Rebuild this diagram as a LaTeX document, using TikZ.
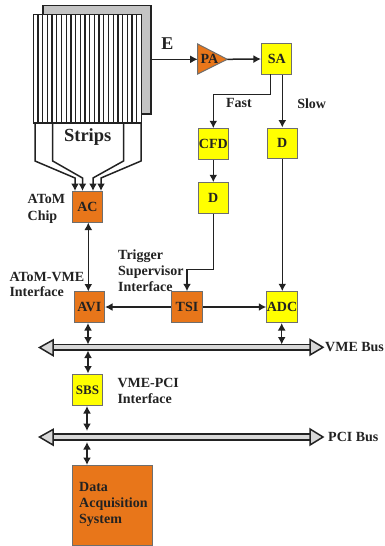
\documentclass[tikz,border=0pt]{standalone}
\usepackage{fontspec}
\setmainfont{Liberation Serif}
\usetikzlibrary{arrows.meta}
\definecolor{ora}{HTML}{E8761A}
\definecolor{yel}{HTML}{FFFF00}
\definecolor{edgeg}{HTML}{6E6E6E}
\definecolor{ink}{HTML}{222222}
\definecolor{pan}{HTML}{C4C4C4}
\definecolor{busg}{HTML}{D8D8D8}
\tikzset{
  lbl/.style={inner sep=0pt,text=ink,font=\fontsize{14}{16}\selectfont\bfseries,align=left},
  blockbox/.style={draw=edgeg,line width=1pt,minimum width=30.5pt,minimum height=30.5pt,inner sep=0pt,text=ink,font=\fontsize{14}{16}\selectfont\bfseries},
  oranbox/.style={blockbox,fill=ora},
  yelbox/.style={blockbox,fill=yel},
  wire/.style={draw=ink,line width=1.5pt},
  arr/.style={wire,-{Latex[length=7.5pt,width=8pt]}},
  darr/.style={wire,{Latex[length=7.5pt,width=8pt]}-{Latex[length=7.5pt,width=8pt]}},
  busbar/.style={draw=ink,line width=1.7pt,fill=busg,minimum width=258pt,minimum height=5.5pt,inner sep=0pt},
  bushead/.style={draw=ink,line width=1.5pt,fill=busg,line join=miter},
}
\begin{document}
\begin{tikzpicture}[x=1pt,y=-1pt]
\useasboundingbox (0,0) rectangle (385,546);
% detector
\draw[draw=ink,line width=1.5pt,fill=pan] (43,5.5) rectangle (151,114);
\node[draw=ink,line width=1.2pt,fill=white,minimum width=108.5pt,minimum height=108.5pt,inner sep=0pt] (det) at (87.5,68.8) {};
\foreach \i in {1,...,22} \draw[ink,line width=1.3pt] (33.3+\i*4.7,14.5) -- (33.3+\i*4.7,123);
% blocks
\node[oranbox] (ac) at (87.5,207) {AC};
\node[oranbox] (avi) at (89.3,307) {AVI};
\node[oranbox] (tsi) at (187,307) {TSI};
\node[yelbox] (adc) at (282,307) {ADC};
\node[yelbox] (sbs) at (87.5,390) {\fontsize{13}{15}\selectfont SBS};
\node[oranbox,minimum width=80pt,minimum height=80pt] (daq) at (112.2,505.7) {};
\node[yelbox] (sa) at (276.7,59) {SA};
\node[yelbox] (cfd) at (213.3,144) {CFD};
\node[yelbox] (d1) at (213.3,198) {D};
\node[yelbox] (d2) at (282.3,143.3) {D};
% PA
\draw[draw=edgeg,line width=1pt,fill=ora] (197.7,44) -- (227.3,59.3) -- (197.7,74) -- cycle;
\node[lbl] (pa) at (209.5,59.3) {PA};
\coordinate (pain) at (197.7,59.3);
\coordinate (paout) at (227.3,59.3);
\coordinate (backe) at (151,59.3);
% buses
\node[busbar] (vme) at (181.5,347.3) {};
\draw[bushead] (53,340) -- (39.5,347.5) -- (53,355.5) -- cycle;
\draw[bushead] (310,339.5) -- (323,347.3) -- (310,355) -- cycle;
\node[busbar] (pci) at (181.5,437) {};
\draw[bushead] (53,429.5) -- (39.5,437) -- (53,445) -- cycle;
\draw[bushead] (310,429) -- (323,437) -- (310,445) -- cycle;
% strips wiring
\coordinate (ac1) at (75,191);
\coordinate (ac2) at (82.5,191);
\coordinate (ac3) at (93,191);
\coordinate (ac4) at (101,191);
\draw[arr] (35,123) -- (35,161) -- (75,178) -- (ac1);
\draw[arr] (52.7,123) -- (52.7,161) -- (82.5,178) -- (ac2);
\draw[arr] (123.5,123) -- (123.5,161) -- (93,178) -- (ac3);
\draw[arr] (141,123) -- (141,161) -- (101,178) -- (ac4);
% connectors
\draw[arr] (backe) -- (pain);
\draw[arr] (paout) -- (sa.west);
\draw[arr] (270.3,74) |- (213.3,94.3) -- (cfd.north);
\draw[arr] (d2.north |- sa.south) -- (d2.north);
\draw[arr] (cfd.south) -- (d1.north);
\draw[arr] (d1.south) -- (213.3,269.3) -| (tsi.north);
\draw[arr] (d2.south) -- (d2.south |- adc.north);
\draw[arr] (tsi.west) -- (avi.east);
\draw[arr] (tsi.east) -- (adc.west);
\draw[darr] (88.3,222.5) -- (88.3,291.5);
\draw[darr] (88,323) -- (88,344.5);
\draw[darr] (88,350.5) -- (88,373.5);
\draw[darr] (87,406) -- (87,431);
\draw[darr] (87,442) -- (87,465);
\draw[darr] (281.7,323) -- (281.7,344.5);
% labels
\node[lbl,font=\fontsize{18}{20}\selectfont\bfseries] (e) at (167.5,43.7) {E};
\node[lbl,font=\fontsize{18.5}{20}\selectfont\bfseries] (strips) at (87.7,137) {Strips};
\node[lbl,anchor=west,font=\fontsize{14}{17.5}\selectfont\bfseries] (chip) at (27.5,209) {AToM\\Chip};
\node[lbl,anchor=west,font=\fontsize{14}{15.5}\selectfont\bfseries] (ifa) at (9.3,284.5) {AToM-VME\\Interface};
\node[lbl,anchor=west] (trig) at (118,271) {Trigger\\Supervisor\\Interface};
\node[lbl] (fast) at (239,103.3) {Fast};
\node[lbl] (slow) at (311.7,104) {Slow};
\node[lbl,anchor=west] (vmel) at (325,347) {VME Bus};
\node[lbl,anchor=west] (pcil) at (328,436.7) {PCI Bus};
\node[lbl,anchor=west] (vp) at (117.3,391) {VME-PCI\\Interface};
\node[lbl,anchor=west] (dl) at (79,504) {Data\\Acquisition\\System};
\end{tikzpicture}
\end{document}
